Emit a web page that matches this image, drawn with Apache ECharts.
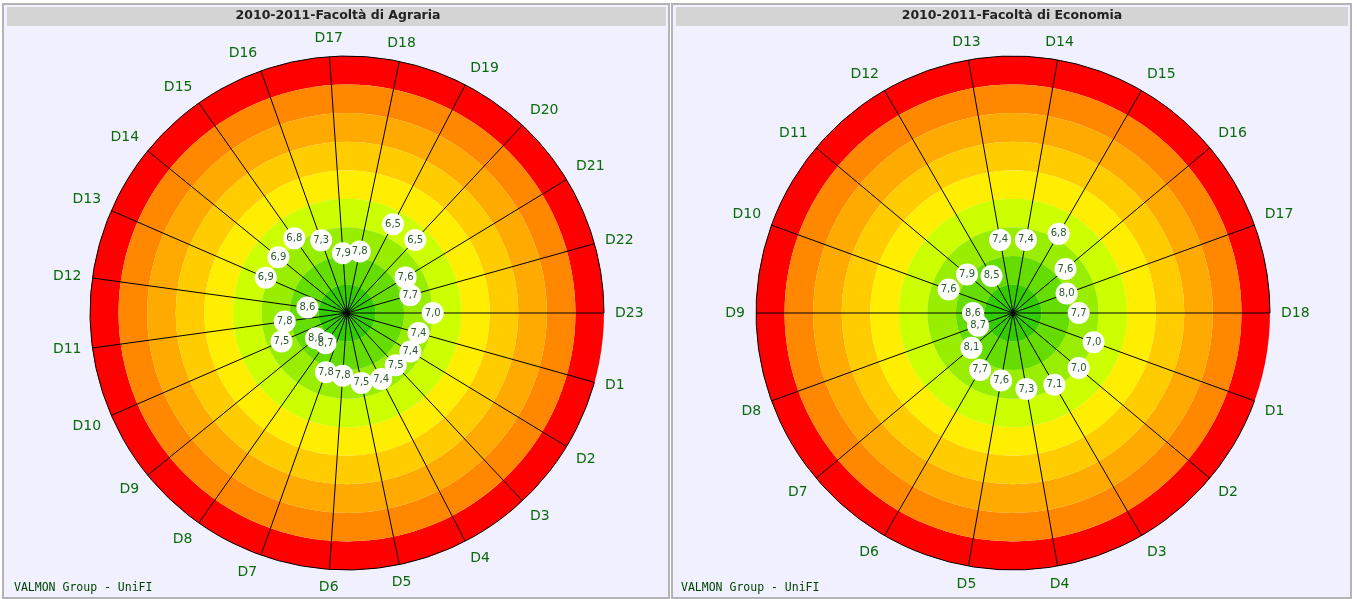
<!DOCTYPE html>
<html>
<head>
<meta charset="utf-8">
<script src="https://cdn.jsdelivr.net/npm/echarts@6/dist/echarts.min.js"></script>
<style>
html,body{margin:0;padding:0;background:#ffffff;}
#main{width:1357px;height:599px;}
</style>
</head>
<body>
<div id="main"></div>
<script>
// ---- data ----
const titleAgraria = '2010-2011-Facoltà di Agraria';
const titleEconomia = '2010-2011-Facoltà di Economia';
const footerText = 'VALMON Group - UniFI';
const catsAgraria = ['D1','D2','D3','D4','D5','D6','D7','D8','D9','D10','D11','D12','D13','D14','D15','D16','D17','D18','D19','D20','D21','D22','D23'];
const valsAgraria = [7.4,7.4,7.5,7.4,7.5,7.8,7.8,8.7,8.6,7.5,7.8,8.6,6.9,6.9,6.8,7.3,7.9,7.8,6.5,6.5,7.6,7.7,7.0];
const catsEconomia = ['D1','D2','D3','D4','D5','D6','D7','D8','D9','D10','D11','D12','D13','D14','D15','D16','D17','D18'];
const valsEconomia = [7.0,7.0,7.1,7.3,7.6,7.7,8.1,8.7,8.6,7.6,7.9,8.5,7.4,7.4,6.8,7.6,8.0,7.7];
const scaleMin = 1, scaleMax = 10;

// ---- style ----
const ringColors = ['#ff0000','#ff8800','#ffaa00','#ffcc00','#ffee00','#ccff00','#99ee00','#66dd00','#33cc00'];
const labelGreen = '#0a6a0a';

const chart = echarts.init(document.getElementById('main'), null, {renderer:'canvas'});

function angleAxis(cats, idx){
  return {
    polarIndex: idx,
    type: 'category',
    data: cats,
    boundaryGap: false,
    startAngle: -360 / cats.length,
    clockwise: true,
    axisLine: {show: true, lineStyle: {color: '#000', width: 1}},
    axisTick: {show: false},
    splitLine: {show: true, lineStyle: {color: '#000', width: 1}},
    axisLabel: {show: true, color: labelGreen, fontSize: 14, fontFamily: 'DejaVu Sans', margin: 11}
  };
}
function radiusAxis(idx){
  return {
    polarIndex: idx,
    type: 'value',
    min: scaleMin, max: scaleMax, interval: 1,
    inverse: true,
    axisLine: {show: false},
    axisTick: {show: false},
    axisLabel: {show: false},
    splitLine: {show: false},
    splitArea: {show: true, areaStyle: {color: ringColors, opacity: 1}}
  };
}
function scatter(cats, vals, idx){
  return {
    type: 'scatter',
    coordinateSystem: 'polar',
    polarIndex: idx,
    symbol: 'circle',
    symbolSize: 22,
    itemStyle: {color: '#ffffff', opacity: 1},
    label: {
      show: true, position: 'inside',
      color: '#2a5a2a', fontSize: 10, fontFamily: 'DejaVu Sans',
      formatter: p => p.value[0].toFixed(1).replace('.', ',')
    },
    silent: true,
    animation: false,
    data: vals.map((v, i) => [v, cats[i]])
  };
}

const option = {
  animation: false,
  backgroundColor: '#ffffff',
  graphic: [
    {type:'rect', z:-10, shape:{x:3, y:4, width:666, height:594}, style:{fill:'#f0f0ff', stroke:'#b4b4b4', lineWidth:2}},
    {type:'rect', z:-9, shape:{x:7, y:7, width:659, height:19}, style:{fill:'#d4d4d4'}},
    {type:'rect', z:-10, shape:{x:672, y:4, width:679, height:594}, style:{fill:'#f0f0ff', stroke:'#b4b4b4', lineWidth:2}},
    {type:'rect', z:-9, shape:{x:676, y:7, width:672, height:19}, style:{fill:'#d4d4d4'}}
  ],
  title: [
    {text: titleAgraria, left: 338, top: 9, textAlign:'center',
     textStyle:{fontSize:12.5, fontWeight:'bold', color:'#222', fontFamily:'DejaVu Sans'}, padding:0},
    {text: titleEconomia, left: 1012, top: 9, textAlign:'center',
     textStyle:{fontSize:12.5, fontWeight:'bold', color:'#222', fontFamily:'DejaVu Sans'}, padding:0},
    {text: footerText, left: 14, top: 582, padding:0,
     textStyle:{fontSize:11.5, fontWeight:'normal', color:'#004400', fontFamily:'DejaVu Sans Mono'}},
    {text: footerText, left: 681, top: 582, padding:0,
     textStyle:{fontSize:11.5, fontWeight:'normal', color:'#004400', fontFamily:'DejaVu Sans Mono'}}
  ],
  polar: [
    {center: [347, 313], radius: 257},
    {center: [1013, 313], radius: 257}
  ],
  angleAxis: [angleAxis(catsAgraria, 0), angleAxis(catsEconomia, 1)],
  radiusAxis: [radiusAxis(0), radiusAxis(1)],
  series: [scatter(catsAgraria, valsAgraria, 0), scatter(catsEconomia, valsEconomia, 1)]
};
chart.setOption(option);
</script>
</body>
</html>
